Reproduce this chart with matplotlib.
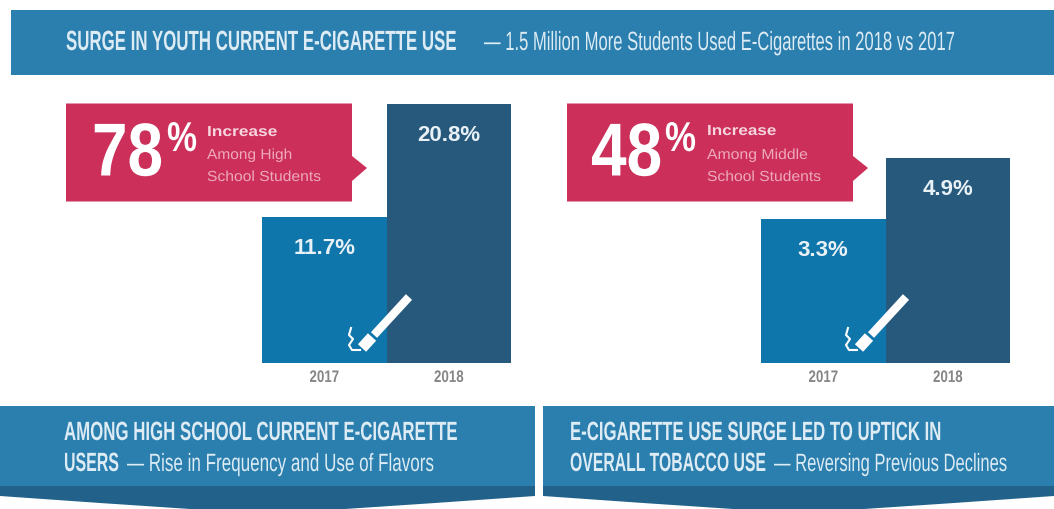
import matplotlib
matplotlib.use('Agg')
import matplotlib.pyplot as plt
from matplotlib.patches import Polygon, Rectangle
from matplotlib.patheffects import AbstractPathEffect
from matplotlib.transforms import Affine2D, Bbox

W, H = 1054, 510

years = ['2017', '2018']
high_school = [11.7, 20.8]
middle_school = [3.3, 4.9]

BLUE = '#0f76ab'
NAVY = '#27597d'
BANNER = '#2b7fae'
BANNER_DARK = '#22618a'
PINK = '#cb2f5a'
PALE = '#dcebf4'


class Squeeze(AbstractPathEffect):
    # the source uses a very condensed face, so narrow the glyphs around x0
    def __init__(self, sx, x0):
        super().__init__()
        self.sx = sx
        self.x0 = x0

    def draw_path(self, renderer, gc, tpath, affine, rgbFace=None):
        squeeze = Affine2D().translate(-self.x0, 0).scale(self.sx, 1).translate(self.x0, 0)
        renderer.draw_path(gc, tpath, affine + squeeze, rgbFace)


def squeeze_text(t, sx, x0):
    # keep the reported extent in step with what is actually drawn
    full_extent = t.get_window_extent
    t.set_path_effects([Squeeze(sx, x0)])

    def extent(renderer=None, dpi=None):
        b = full_extent(renderer=renderer, dpi=dpi)
        return Bbox([[x0 + (b.x0 - x0) * sx, b.y0], [x0 + (b.x1 - x0) * sx, b.y1]])
    t.get_window_extent = extent


def label(ax, x0, x1, y, s, size, color=PALE, weight='normal'):
    t = ax.text(x0, y, s, fontsize=size, color=color, fontweight=weight,
                family='Liberation Sans', ha='left', va='center')
    width = t.get_window_extent(renderer=fig.canvas.get_renderer()).width
    squeeze_text(t, (x1 - x0) / width, x0)
    return t


def bar_panel(left, right, top, values, low=0):
    axb = fig.add_axes([left / W, 1 - 364 / H, (right - left) / W, (364 - top) / H])
    bars = axb.bar([0, 1], [v - low for v in values], width=1.0, bottom=low, color=[BLUE, NAVY])
    axb.set_xlim(-0.5, 1.5)
    axb.set_ylim(low, max(values))
    axb.set_xticks([0, 1], years)
    axb.set_yticks([])
    axb.tick_params(axis='x', length=0, pad=5, labelsize=12, labelcolor='#858585')
    for i, lab in enumerate(axb.get_xticklabels()):
        lab.set_family('Liberation Sans')
        lab.set_fontweight('bold')
        lab.set_path_effects([Squeeze(0.8, axb.transData.transform((i, low))[0])])
    for sp in axb.spines.values():
        sp.set_visible(False)
    for i, v in enumerate(values):
        axb.annotate('%.1f%%' % v, (i, v), xytext=(0, -22), textcoords='offset points',
                     ha='center', va='center', color='#e8f1f6', fontsize=16, fontweight='bold',
                     family='Liberation Sans')
    return bars


fig = plt.figure(figsize=(W / 100, H / 100), dpi=100, facecolor='white')

bar_panel(262, 511, 104.5, high_school)
bar_panel(761, 1010, 158.5, middle_school, low=-0.42)

ax = fig.add_axes([0, 0, 1, 1])
ax.set_xlim(0, W)
ax.set_ylim(H, 0)
ax.axis('off')
ax.patch.set_alpha(0)

# banners
ax.add_patch(Rectangle((11, 11), W - 11, 65, color=BANNER, lw=0))
for x0, x1 in [(0, 535), (543, W)]:
    ax.add_patch(Polygon([(x0, 487), (x1, 487), (x1, 497), (x1 - 100, 504), (x1 - 190, 510),
                          (x0 + 190, 510), (x0 + 100, 504), (x0, 497)], color=BANNER_DARK, lw=0))
    ax.add_patch(Rectangle((x0, 407), x1 - x0, 80, color=BANNER, lw=0))

# callouts
for x in [66, 567]:
    ax.add_patch(Polygon([(x, 104.5), (x + 286, 104.5), (x + 286, 157), (x + 301, 169),
                          (x + 286, 182), (x + 286, 202.5), (x, 202.5)], color=PINK, lw=0))

label(ax, 66, 456, 44, 'SURGE IN YOUTH CURRENT E-CIGARETTE USE', 20, weight='bold')
label(ax, 484, 955, 44, '\u2014 1.5 Million More Students Used E-Cigarettes in 2018 vs 2017', 19)

label(ax, 64, 457, 434, 'AMONG HIGH SCHOOL CURRENT E-CIGARETTE', 19, weight='bold')
label(ax, 64, 119, 465, 'USERS', 19, weight='bold')
label(ax, 127, 434, 465, '\u2014 Rise in Frequency and Use of Flavors', 18)
label(ax, 570, 941, 434, 'E-CIGARETTE USE SURGE LED TO UPTICK IN', 19, weight='bold')
label(ax, 570, 766, 465, 'OVERALL TOBACCO USE', 19, weight='bold')
label(ax, 774, 1007, 465, '\u2014 Reversing Previous Declines', 18)

label(ax, 92, 163, 157, '78', 54, color='white', weight='bold')
label(ax, 167, 197, 141, '%', 30, color='white', weight='bold')
label(ax, 591, 662, 157, '48', 54, color='white', weight='bold')
label(ax, 665, 696, 141, '%', 30, color='white', weight='bold')

label(ax, 207, 278, 133, 'Increase', 10.5, color='#f6d5de', weight='bold')
label(ax, 207, 293, 156, 'Among High', 10.5, color='#eea9bc')
label(ax, 207, 322, 178, 'School Students', 10.5, color='#eea9bc')
label(ax, 707, 777, 132, 'Increase', 10.5, color='#f6d5de', weight='bold')
label(ax, 707, 809, 156, 'Among Middle', 10.5, color='#eea9bc')
label(ax, 707, 822, 178, 'School Students', 10.5, color='#eea9bc')

# e-cigarette icons
for dx in [0, 497]:
    ax.plot([374 + dx, 409 + dx], [336, 298], color='white', lw=6, solid_capstyle='butt')
    ax.plot([362 + dx, 372 + dx], [349, 338], color='white', lw=8, solid_capstyle='butt')
    ax.plot([351 + dx, 349 + dx, 353 + dx, 349 + dx, 352 + dx, 360 + dx],
            [329, 336, 340, 346, 351, 351], color='white', lw=1.5)

fig.savefig('out.png', dpi=100)
